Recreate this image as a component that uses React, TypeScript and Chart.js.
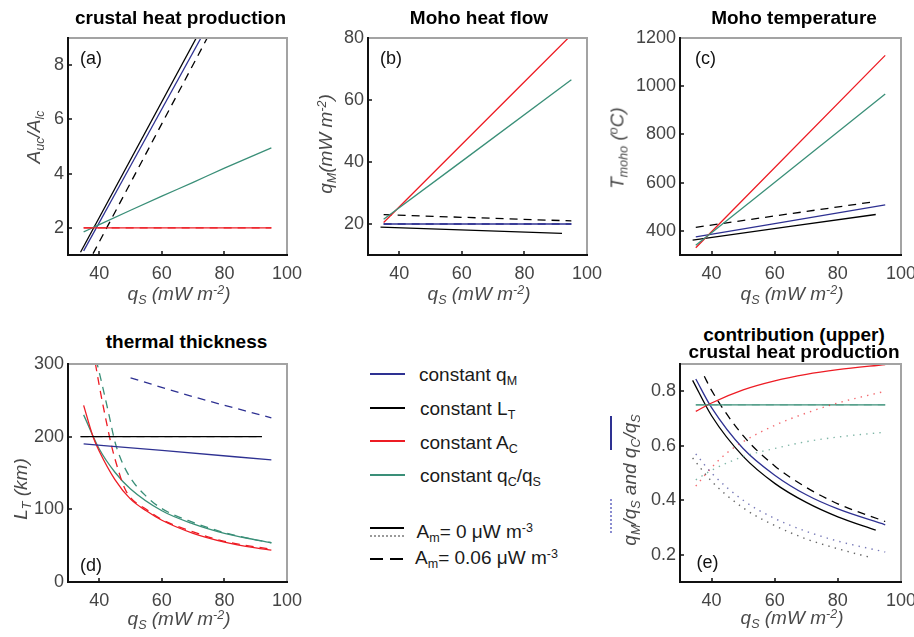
import React, { useEffect, useRef } from "react";
import { Chart, registerables } from "chart.js";
Chart.register(...registerables);

// ---------------- data ----------------
const xTicks = [40, 60, 80, 100];
const xTickLabels = ["40", "60", "80", "100"];

// (a) crustal heat production
const aYTicks = [2, 4, 6, 8];
const aYTickLabels = ["2", "4", "6", "8"];
const aBlackX = [34, 71];
const aBlackY = [1.1, 9.0];
const aBlueX = [35, 72.5];
const aBlueY = [1.15, 9.0];
const aBlackDashX = [38, 74.5];
const aBlackDashY = [1.05, 9.0];
const aGreenX = [35, 40, 50, 60, 70, 80, 95];
const aGreenY = [1.85, 2.12, 2.65, 3.17, 3.68, 4.2, 4.95];
const aRedX = [35, 95];
const aRedY = [2, 2];

// (b) Moho heat flow
const bYTicks = [20, 40, 60, 80];
const bYTickLabels = ["20", "40", "60", "80"];
const bRedX = [35, 95];
const bRedY = [20.5, 81];
const bGreenX = [35, 95];
const bGreenY = [21.5, 66.5];
const bBlackDashX = [35, 95];
const bBlackDashY = [23, 21];
const bBlueX = [35, 95];
const bBlueY = [20, 20];
const bBlackX = [34, 92];
const bBlackY = [19, 17];

// (c) Moho temperature
const cYTicks = [400, 600, 800, 1000, 1200];
const cYTickLabels = ["400", "600", "800", "1000", "1200"];
const cRedX = [35, 95];
const cRedY = [330, 1128];
const cGreenX = [35, 95];
const cGreenY = [340, 968];
const cBlackDashX = [35, 91];
const cBlackDashY = [415, 520];
const cBlueX = [35, 95];
const cBlueY = [375, 508];
const cBlackX = [34, 92];
const cBlackY = [362, 468];

// (d) thermal thickness
const dYTicks = [0, 100, 200, 300];
const dYTickLabels = ["0", "100", "200", "300"];
const dBlackX = [34, 92];
const dBlackY = [200, 200];
const dBlueX = [35, 60, 95];
const dBlueY = [190, 181, 168];
const dBlueDashX = [50, 70, 95];
const dBlueDashY = [281, 255, 226];
const dRedX = [35, 38, 40, 45, 50, 55, 60, 70, 80, 90, 95];
const dRedY = [243, 200, 180, 141, 114, 98, 85, 67, 55, 47, 44];
const dGreenX = [35, 40, 45, 50, 60, 70, 80, 90, 95];
const dGreenY = [230, 183, 151, 128, 98, 80, 67, 58, 54];
const dRedDashX = [38, 40, 42, 44, 46, 48, 50, 55, 60, 70, 80, 95];
const dRedDashY = [320, 270, 226, 186, 155, 130, 116, 100, 86, 69, 56, 45];
const dGreenDashX = [39, 41, 43, 45, 47, 50, 55, 60, 70, 80, 90, 95];
const dGreenDashY = [306, 270, 232, 193, 168, 143, 118, 101, 82, 68, 58, 54];

// (e) contribution (upper) crustal heat production
const eYTicks = [0.2, 0.4, 0.6, 0.8];
const eYTickLabels = ["0.2", "0.4", "0.6", "0.8"];
const eRedX = [35, 40, 50, 60, 70, 80, 95];
const eRedY = [0.726, 0.757, 0.805, 0.838, 0.862, 0.879, 0.898];
const eGreenX = [35, 95];
const eGreenY = [0.75, 0.75];
const eBlueX = [35, 40, 50, 60, 70, 80, 95];
const eBlueY = [0.845, 0.74, 0.59, 0.492, 0.42, 0.368, 0.31];
const eBlackX = [34, 40, 50, 60, 70, 80, 92];
const eBlackY = [0.84, 0.71, 0.561, 0.462, 0.392, 0.339, 0.29];
const eBlackDashX = [37.7, 40, 50, 60, 70, 80, 95];
const eBlackDashY = [0.855, 0.803, 0.637, 0.526, 0.447, 0.387, 0.322];
const eBlueDotX = [35, 40, 50, 60, 70, 80, 95];
const eBlueDotY = [0.57, 0.5, 0.4, 0.333, 0.286, 0.25, 0.21];
const eBlackDotX = [34, 40, 50, 60, 70, 80, 91];
const eBlackDotY = [0.555, 0.47, 0.372, 0.307, 0.258, 0.222, 0.188];
const eRedDotX = [35, 40, 45, 50, 60, 70, 80, 95];
const eRedDotY = [0.452, 0.52, 0.575, 0.615, 0.675, 0.72, 0.757, 0.8];
const eGreenDotX = [35, 40, 50, 60, 70, 80, 95];
const eGreenDotY = [0.475, 0.51, 0.56, 0.59, 0.615, 0.632, 0.65];

// ---------------- styles ----------------
const FONT = '"Liberation Sans", Arial, Helvetica, sans-serif';
const BLUE = "#2e3192";
const BLACK = "#000000";
const RED = "#ed1c24";
const GREEN = "#3a8f78";
const BLUE_DOT = "rgba(46,49,146,0.65)";
const BLACK_DOT = "rgba(0,0,0,0.6)";
const RED_DOT = "rgba(237,28,36,0.65)";
const GREEN_DOT = "rgba(58,143,120,0.65)";
const TICK = "#444444";
const LABEL = "#4a4a4a";

type S = { x: number[]; y: number[]; c: string; d?: "dash" | "dot" };
type P = {
  l: number; t: number; r: number; b: number; R: number;
  yMin: number; yMax: number; yTicks: number[]; yLabels: string[];
  series: S[];
};

const LW = 64; // y-axis box width
const TP = 12; // top padding
const BH = 34; // x-axis box height

const framePlugin = {
  id: "frame",
  afterDatasetsDraw(chart: any) {
    const { ctx, chartArea: a, scales } = chart;
    ctx.save();
    ctx.lineWidth = 2;
    ctx.lineCap = "square";
    ctx.strokeStyle = "#a3a3a3";
    ctx.beginPath();
    ctx.moveTo(a.left, a.top);
    ctx.lineTo(a.right, a.top);
    ctx.lineTo(a.right, a.bottom);
    ctx.stroke();
    ctx.strokeStyle = "#111";
    ctx.beginPath();
    ctx.moveTo(a.left, a.top);
    ctx.lineTo(a.left, a.bottom);
    ctx.lineTo(a.right, a.bottom);
    ctx.stroke();
    ctx.lineWidth = 1.5;
    ctx.lineCap = "butt";
    ctx.beginPath();
    for (const t of scales.x.ticks) {
      const px = Math.round(scales.x.getPixelForValue(t.value));
      if (px > a.left + 3 && px < a.right - 3) {
        ctx.moveTo(px, a.bottom);
        ctx.lineTo(px, a.bottom - 4);
      }
    }
    for (const t of scales.y.ticks) {
      const py = Math.round(scales.y.getPixelForValue(t.value));
      if (py > a.top + 3 && py < a.bottom - 3) {
        ctx.moveTo(a.left, py);
        ctx.lineTo(a.left + 4, py);
      }
    }
    ctx.stroke();
    ctx.restore();
  },
};

function Panel(p: P) {
  const ref = useRef<HTMLCanvasElement>(null);
  const w = p.r - p.l + LW + p.R;
  const h = p.b - p.t + TP + BH;
  useEffect(() => {
    const chart = new Chart(ref.current as HTMLCanvasElement, {
      type: "line",
      data: {
        datasets: p.series.map((s) => ({
          data: s.x.map((x, i) => ({ x, y: s.y[i] })),
          borderColor: s.c,
          borderWidth: s.d === "dot" ? 1.4 : 1.3,
          borderDash: s.d === "dash" ? [8, 6] : s.d === "dot" ? [1.4, 5.2] : [],
          pointRadius: 0,
          fill: false,
          cubicInterpolationMode: "monotone",
        })) as any,
      },
      options: {
        animation: false,
        responsive: false,
        maintainAspectRatio: false,
        devicePixelRatio: 1,
        events: [],
        layout: { padding: { left: 0, top: TP, right: p.R, bottom: 0 } },
        plugins: { legend: { display: false }, tooltip: { enabled: false }, title: { display: false } },
        scales: {
          x: {
            type: "linear",
            min: 30,
            max: 100,
            grid: { display: false, drawTicks: false },
            border: { display: false },
            ticks: {
              font: { family: FONT, size: 18 },
              color: TICK,
              padding: 8,
              maxRotation: 0,
              autoSkip: false,
              callback: (_v: any, i: number) => xTickLabels[i],
            },
            afterBuildTicks: (s: any) => {
              s.ticks = xTicks.map((v) => ({ value: v }));
            },
            afterFit: (s: any) => {
              s.height = BH;
              s.paddingLeft = 0;
              s.paddingRight = 0;
            },
          },
          y: {
            type: "linear",
            min: p.yMin,
            max: p.yMax,
            grid: { display: false, drawTicks: false },
            border: { display: false },
            ticks: {
              font: { family: FONT, size: 18 },
              color: TICK,
              padding: 4,
              autoSkip: false,
              callback: (_v: any, i: number) => p.yLabels[i],
            },
            afterBuildTicks: (s: any) => {
              s.ticks = p.yTicks.map((v) => ({ value: v }));
            },
            afterFit: (s: any) => {
              s.width = LW;
              s.paddingTop = 0;
              s.paddingBottom = 0;
            },
          },
        },
      } as any,
      plugins: [framePlugin],
    });
    return () => chart.destroy();
  }, []);
  return (
    <canvas
      ref={ref}
      width={w}
      height={h}
      style={{ position: "absolute", left: p.l - LW, top: p.t - TP, width: w, height: h }}
    />
  );
}

const subS: React.CSSProperties = { fontSize: "0.66em", position: "relative", top: "0.35em" };
const supS: React.CSSProperties = { fontSize: "0.66em", position: "relative", top: "-0.45em" };
const Sub = ({ children }: any) => <span style={subS}>{children}</span>;
const Sup = ({ children }: any) => <span style={supS}>{children}</span>;

function Txt({ x, y, rot, left, style, children }: any) {
  const tf = rot
    ? "translate(-50%,-50%) rotate(-90deg)"
    : left
    ? "translate(0,-50%)"
    : "translate(-50%,-50%)";
  return (
    <div
      style={{
        position: "absolute",
        left: x,
        top: y,
        transform: tf,
        whiteSpace: "nowrap",
        lineHeight: 1,
        ...style,
      }}
    >
      {children}
    </div>
  );
}

const titleS: React.CSSProperties = { fontWeight: "bold", fontSize: 19, color: "#000" };
const axS: React.CSSProperties = { fontStyle: "italic", fontSize: 19, color: LABEL };
const letS: React.CSSProperties = { fontSize: 18, color: "#111" };
const legS: React.CSSProperties = { fontSize: 19, color: "#1a1a1a" };

const XLab = () => (
  <>
    q<Sub>S</Sub> (mW m<Sup>-2</Sup>)
  </>
);

function LegLine({ x, y, w, c, style }: any) {
  return (
    <div
      style={{
        position: "absolute",
        left: x,
        top: y - 1,
        width: w,
        height: 0,
        borderTop: `2px ${style || "solid"} ${c}`,
      }}
    />
  );
}

export default function App() {
  return (
    <div
      style={{
        position: "absolute",
        left: 0,
        top: 0,
        width: 914,
        height: 637,
        overflow: "hidden",
        background: "#fff",
        fontFamily: FONT,
      }}
    >
      <Panel
        l={68} t={38} r={287} b={255} R={16}
        yMin={1} yMax={9} yTicks={aYTicks} yLabels={aYTickLabels}
        series={[
          { x: aRedX, y: aRedY, c: RED },
          { x: aRedX, y: aRedY, c: RED, d: "dash" },
          { x: aGreenX, y: aGreenY, c: GREEN },
          { x: aBlackX, y: aBlackY, c: BLACK },
          { x: aBlueX, y: aBlueY, c: BLUE },
          { x: aBlackDashX, y: aBlackDashY, c: BLACK, d: "dash" },
        ]}
      />
      <Panel
        l={368} t={38} r={587} b={255} R={16}
        yMin={10} yMax={80} yTicks={bYTicks} yLabels={bYTickLabels}
        series={[
          { x: bGreenX, y: bGreenY, c: GREEN },
          { x: bRedX, y: bRedY, c: RED },
          { x: bBlackDashX, y: bBlackDashY, c: BLACK, d: "dash" },
          { x: bBlueX, y: bBlueY, c: BLUE },
          { x: bBlueX, y: bBlueY, c: BLUE, d: "dash" },
          { x: bBlackX, y: bBlackY, c: BLACK },
        ]}
      />
      <Panel
        l={680} t={38} r={901} b={255} R={13}
        yMin={300} yMax={1200} yTicks={cYTicks} yLabels={cYTickLabels}
        series={[
          { x: cGreenX, y: cGreenY, c: GREEN },
          { x: cRedX, y: cRedY, c: RED },
          { x: cBlackDashX, y: cBlackDashY, c: BLACK, d: "dash" },
          { x: cBlueX, y: cBlueY, c: BLUE },
          { x: cBlackX, y: cBlackY, c: BLACK },
        ]}
      />
      <Panel
        l={68} t={364} r={287} b={582} R={16}
        yMin={0} yMax={300} yTicks={dYTicks} yLabels={dYTickLabels}
        series={[
          { x: dBlackX, y: dBlackY, c: BLACK },
          { x: dBlackX, y: dBlackY, c: "#888", d: "dash" },
          { x: dBlueX, y: dBlueY, c: BLUE },
          { x: dBlueDashX, y: dBlueDashY, c: BLUE, d: "dash" },
          { x: dRedX, y: dRedY, c: RED },
          { x: dRedDashX, y: dRedDashY, c: RED, d: "dash" },
          { x: dGreenX, y: dGreenY, c: GREEN },
          { x: dGreenDashX, y: dGreenDashY, c: GREEN, d: "dash" },
        ]}
      />
      <Panel
        l={680} t={364} r={901} b={582} R={13}
        yMin={0.1} yMax={0.9} yTicks={eYTicks} yLabels={eYTickLabels}
        series={[
          { x: eBlueDotX, y: eBlueDotY, c: BLUE_DOT, d: "dot" },
          { x: eBlackDotX, y: eBlackDotY, c: BLACK_DOT, d: "dot" },
          { x: eRedDotX, y: eRedDotY, c: RED_DOT, d: "dot" },
          { x: eGreenDotX, y: eGreenDotY, c: GREEN_DOT, d: "dot" },
          { x: eGreenX, y: eGreenY, c: GREEN },
          { x: eGreenX, y: eGreenY, c: "#9cc7bb", d: "dash" },
          { x: eRedX, y: eRedY, c: RED },
          { x: eBlackX, y: eBlackY, c: BLACK },
          { x: eBlueX, y: eBlueY, c: BLUE },
          { x: eBlackDashX, y: eBlackDashY, c: BLACK, d: "dash" },
        ]}
      />

      {/* titles */}
      <Txt x={180.5} y={17} style={titleS}>crustal heat production</Txt>
      <Txt x={479} y={17} style={titleS}>Moho heat flow</Txt>
      <Txt x={794} y={17} style={titleS}>Moho temperature</Txt>
      <Txt x={186.5} y={341} style={titleS}>thermal thickness</Txt>
      <Txt x={794} y={333.5} style={titleS}>contribution (upper)</Txt>
      <Txt x={794} y={351} style={titleS}>crustal heat production</Txt>

      {/* x labels */}
      <Txt x={179} y={293} style={axS}><XLab /></Txt>
      <Txt x={479} y={293} style={axS}><XLab /></Txt>
      <Txt x={792} y={293} style={axS}><XLab /></Txt>
      <Txt x={179} y={618} style={axS}><XLab /></Txt>
      <Txt x={792} y={617} style={axS}><XLab /></Txt>

      {/* y labels */}
      <Txt x={33} y={137} rot style={axS}>
        A<Sub>uc</Sub>/A<Sub>lc</Sub>
      </Txt>
      <Txt x={325} y={143.5} rot style={axS}>
        q<Sub>M</Sub>(mW m<Sup>-2</Sup>)
      </Txt>
      <Txt x={617} y={147.5} rot style={axS}>
        T<Sub>moho</Sub> (<Sup>o</Sup>C)
      </Txt>
      <Txt x={20} y={489} rot style={axS}>
        L<Sub>T</Sub> (km)
      </Txt>
      <Txt x={628.5} y={480} rot style={axS}>
        q<Sub>M</Sub>/q<Sub>S</Sub> and q<Sub>C</Sub>/q<Sub>S</Sub>
      </Txt>
      <div style={{ position: "absolute", left: 610, top: 416, width: 2, height: 34, background: BLUE }} />
      <div style={{ position: "absolute", left: 610, top: 499, width: 0, height: 34, borderLeft: `2px dotted #8a8cd0` }} />

      {/* panel letters */}
      <Txt x={80} y={58} left style={letS}>(a)</Txt>
      <Txt x={380} y={58} left style={letS}>(b)</Txt>
      <Txt x={695} y={58} left style={letS}>(c)</Txt>
      <Txt x={80} y={565} left style={letS}>(d)</Txt>
      <Txt x={696.5} y={562} left style={letS}>(e)</Txt>

      {/* legend */}
      <LegLine x={370} y={373.5} w={35} c={BLUE} />
      <LegLine x={370} y={407.5} w={35} c={BLACK} />
      <LegLine x={370} y={441} w={35} c={RED} />
      <LegLine x={370} y={474.5} w={35} c={GREEN} />
      <Txt x={419} y={374} left style={legS}>constant q<Sub>M</Sub></Txt>
      <Txt x={420} y={408} left style={legS}>constant L<Sub>T</Sub></Txt>
      <Txt x={420} y={441.5} left style={legS}>constant A<Sub>C</Sub></Txt>
      <Txt x={420} y={475} left style={legS}>constant q<Sub>C</Sub>/q<Sub>S</Sub></Txt>

      <LegLine x={370} y={527.5} w={34} c={BLACK} />
      <LegLine x={370} y={536} w={34} c="#9a9a9a" style="dotted" />
      <LegLine x={370} y={558.5} w={13} c={BLACK} />
      <LegLine x={390} y={558.5} w={13} c={BLACK} />
      <Txt x={416.5} y={531} left style={legS}>A<Sub>m</Sub>= 0 μW m<Sup>-3</Sup></Txt>
      <Txt x={415} y={557} left style={legS}>A<Sub>m</Sub>= 0.06 μW m<Sup>-3</Sup></Txt>
    </div>
  );
}
